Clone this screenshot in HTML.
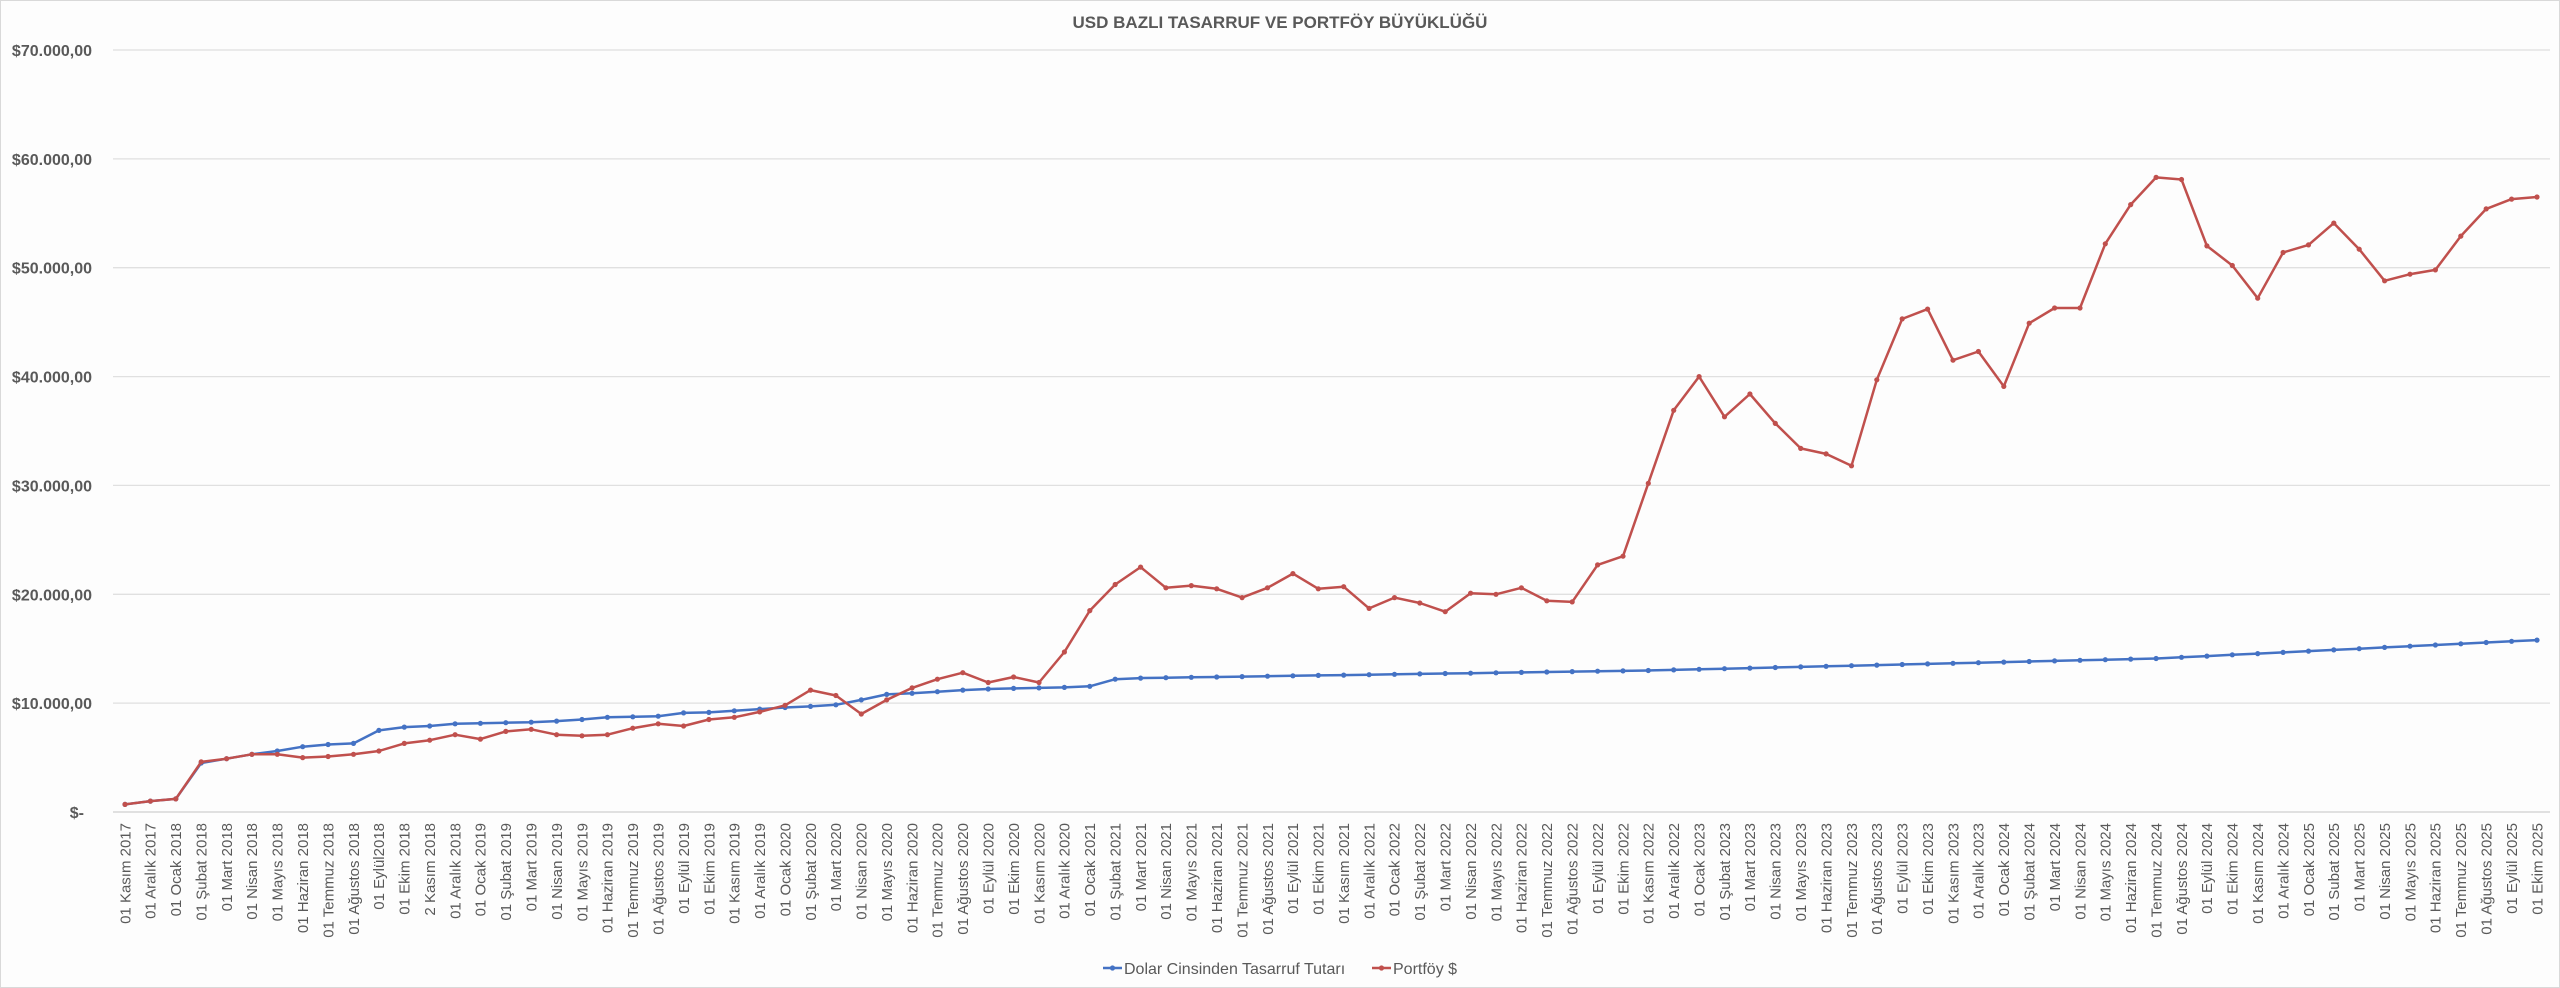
<!DOCTYPE html>
<html><head><meta charset="utf-8"><style>
html,body{margin:0;padding:0;background:#fff}
svg{display:block}
text{font-family:"Liberation Sans",sans-serif;fill:#595959}
</style></head><body>
<svg id="s" width="2560" height="988" viewBox="0 0 2560 988" xmlns="http://www.w3.org/2000/svg">
<rect x="0.5" y="0.5" width="2559" height="987" fill="#fdfdfd" stroke="#d9d9d9"/>
<text x="1280" y="28" text-anchor="middle" font-size="17" font-weight="bold">USD BAZLI TASARRUF VE PORTFÖY BÜYÜKLÜĞÜ</text>
<g stroke="#e0e0e0" stroke-width="1.3">
<line x1="113" x2="2550" y1="50" y2="50"/><line x1="113" x2="2550" y1="158.9" y2="158.9"/><line x1="113" x2="2550" y1="267.7" y2="267.7"/><line x1="113" x2="2550" y1="376.6" y2="376.6"/><line x1="113" x2="2550" y1="485.4" y2="485.4"/><line x1="113" x2="2550" y1="594.3" y2="594.3"/><line x1="113" x2="2550" y1="703.1" y2="703.1"/><line x1="113" x2="2550" y1="812" y2="812" stroke="#d0d0d0"/>
</g>
<g font-size="16" font-weight="bold" text-anchor="end">
<text x="92" y="56">$70.000,00</text><text x="92" y="164.9">$60.000,00</text><text x="92" y="273.7">$50.000,00</text><text x="92" y="382.6">$40.000,00</text><text x="92" y="491.4">$30.000,00</text><text x="92" y="600.3">$20.000,00</text><text x="92" y="709.1">$10.000,00</text><text x="84" y="818">$-</text>
</g>
<g font-size="15" text-anchor="end">
<text transform="translate(125,823) rotate(-90)" dy="0.35em">01 Kasım 2017</text>
<text transform="translate(150.4,823) rotate(-90)" dy="0.35em">01 Aralık 2017</text>
<text transform="translate(175.8,823) rotate(-90)" dy="0.35em">01 Ocak 2018</text>
<text transform="translate(201.2,823) rotate(-90)" dy="0.35em">01 Şubat 2018</text>
<text transform="translate(226.6,823) rotate(-90)" dy="0.35em">01 Mart 2018</text>
<text transform="translate(251.9,823) rotate(-90)" dy="0.35em">01 Nisan 2018</text>
<text transform="translate(277.3,823) rotate(-90)" dy="0.35em">01 Mayıs 2018</text>
<text transform="translate(302.7,823) rotate(-90)" dy="0.35em">01 Haziran 2018</text>
<text transform="translate(328.1,823) rotate(-90)" dy="0.35em">01 Temmuz 2018</text>
<text transform="translate(353.5,823) rotate(-90)" dy="0.35em">01 Ağustos 2018</text>
<text transform="translate(378.9,823) rotate(-90)" dy="0.35em">01 Eylül2018</text>
<text transform="translate(404.3,823) rotate(-90)" dy="0.35em">01 Ekim 2018</text>
<text transform="translate(429.7,823) rotate(-90)" dy="0.35em">2 Kasım 2018</text>
<text transform="translate(455.1,823) rotate(-90)" dy="0.35em">01 Aralık 2018</text>
<text transform="translate(480.4,823) rotate(-90)" dy="0.35em">01 Ocak 2019</text>
<text transform="translate(505.8,823) rotate(-90)" dy="0.35em">01 Şubat 2019</text>
<text transform="translate(531.2,823) rotate(-90)" dy="0.35em">01 Mart 2019</text>
<text transform="translate(556.6,823) rotate(-90)" dy="0.35em">01 Nisan 2019</text>
<text transform="translate(582,823) rotate(-90)" dy="0.35em">01 Mayıs 2019</text>
<text transform="translate(607.4,823) rotate(-90)" dy="0.35em">01 Haziran 2019</text>
<text transform="translate(632.8,823) rotate(-90)" dy="0.35em">01 Temmuz 2019</text>
<text transform="translate(658.2,823) rotate(-90)" dy="0.35em">01 Ağustos 2019</text>
<text transform="translate(683.6,823) rotate(-90)" dy="0.35em">01 Eylül 2019</text>
<text transform="translate(709,823) rotate(-90)" dy="0.35em">01 Ekim 2019</text>
<text transform="translate(734.3,823) rotate(-90)" dy="0.35em">01 Kasım 2019</text>
<text transform="translate(759.7,823) rotate(-90)" dy="0.35em">01 Aralık 2019</text>
<text transform="translate(785.1,823) rotate(-90)" dy="0.35em">01 Ocak 2020</text>
<text transform="translate(810.5,823) rotate(-90)" dy="0.35em">01 Şubat 2020</text>
<text transform="translate(835.9,823) rotate(-90)" dy="0.35em">01 Mart 2020</text>
<text transform="translate(861.3,823) rotate(-90)" dy="0.35em">01 Nisan 2020</text>
<text transform="translate(886.7,823) rotate(-90)" dy="0.35em">01 Mayıs 2020</text>
<text transform="translate(912.1,823) rotate(-90)" dy="0.35em">01 Haziran 2020</text>
<text transform="translate(937.4,823) rotate(-90)" dy="0.35em">01 Temmuz 2020</text>
<text transform="translate(962.8,823) rotate(-90)" dy="0.35em">01 Ağustos 2020</text>
<text transform="translate(988.2,823) rotate(-90)" dy="0.35em">01 Eylül 2020</text>
<text transform="translate(1013.6,823) rotate(-90)" dy="0.35em">01 Ekim 2020</text>
<text transform="translate(1039,823) rotate(-90)" dy="0.35em">01 Kasım 2020</text>
<text transform="translate(1064.4,823) rotate(-90)" dy="0.35em">01 Aralık 2020</text>
<text transform="translate(1089.8,823) rotate(-90)" dy="0.35em">01 Ocak 2021</text>
<text transform="translate(1115.2,823) rotate(-90)" dy="0.35em">01 Şubat 2021</text>
<text transform="translate(1140.6,823) rotate(-90)" dy="0.35em">01 Mart 2021</text>
<text transform="translate(1165.9,823) rotate(-90)" dy="0.35em">01 Nisan 2021</text>
<text transform="translate(1191.3,823) rotate(-90)" dy="0.35em">01 Mayıs 2021</text>
<text transform="translate(1216.7,823) rotate(-90)" dy="0.35em">01 Haziran 2021</text>
<text transform="translate(1242.1,823) rotate(-90)" dy="0.35em">01 Temmuz 2021</text>
<text transform="translate(1267.5,823) rotate(-90)" dy="0.35em">01 Ağustos 2021</text>
<text transform="translate(1292.9,823) rotate(-90)" dy="0.35em">01 Eylül 2021</text>
<text transform="translate(1318.3,823) rotate(-90)" dy="0.35em">01 Ekim 2021</text>
<text transform="translate(1343.7,823) rotate(-90)" dy="0.35em">01 Kasım 2021</text>
<text transform="translate(1369.1,823) rotate(-90)" dy="0.35em">01 Aralık 2021</text>
<text transform="translate(1394.4,823) rotate(-90)" dy="0.35em">01 Ocak 2022</text>
<text transform="translate(1419.8,823) rotate(-90)" dy="0.35em">01 Şubat 2022</text>
<text transform="translate(1445.2,823) rotate(-90)" dy="0.35em">01 Mart 2022</text>
<text transform="translate(1470.6,823) rotate(-90)" dy="0.35em">01 Nisan 2022</text>
<text transform="translate(1496,823) rotate(-90)" dy="0.35em">01 Mayıs 2022</text>
<text transform="translate(1521.4,823) rotate(-90)" dy="0.35em">01 Haziran 2022</text>
<text transform="translate(1546.8,823) rotate(-90)" dy="0.35em">01 Temmuz 2022</text>
<text transform="translate(1572.2,823) rotate(-90)" dy="0.35em">01 Ağustos 2022</text>
<text transform="translate(1597.6,823) rotate(-90)" dy="0.35em">01 Eylül 2022</text>
<text transform="translate(1623,823) rotate(-90)" dy="0.35em">01 Ekim 2022</text>
<text transform="translate(1648.3,823) rotate(-90)" dy="0.35em">01 Kasım 2022</text>
<text transform="translate(1673.7,823) rotate(-90)" dy="0.35em">01 Aralık 2022</text>
<text transform="translate(1699.1,823) rotate(-90)" dy="0.35em">01 Ocak 2023</text>
<text transform="translate(1724.5,823) rotate(-90)" dy="0.35em">01 Şubat 2023</text>
<text transform="translate(1749.9,823) rotate(-90)" dy="0.35em">01 Mart 2023</text>
<text transform="translate(1775.3,823) rotate(-90)" dy="0.35em">01 Nisan 2023</text>
<text transform="translate(1800.7,823) rotate(-90)" dy="0.35em">01 Mayıs 2023</text>
<text transform="translate(1826.1,823) rotate(-90)" dy="0.35em">01 Haziran 2023</text>
<text transform="translate(1851.5,823) rotate(-90)" dy="0.35em">01 Temmuz 2023</text>
<text transform="translate(1876.8,823) rotate(-90)" dy="0.35em">01 Ağustos 2023</text>
<text transform="translate(1902.2,823) rotate(-90)" dy="0.35em">01 Eylül 2023</text>
<text transform="translate(1927.6,823) rotate(-90)" dy="0.35em">01 Ekim 2023</text>
<text transform="translate(1953,823) rotate(-90)" dy="0.35em">01 Kasım 2023</text>
<text transform="translate(1978.4,823) rotate(-90)" dy="0.35em">01 Aralık 2023</text>
<text transform="translate(2003.8,823) rotate(-90)" dy="0.35em">01 Ocak 2024</text>
<text transform="translate(2029.2,823) rotate(-90)" dy="0.35em">01 Şubat 2024</text>
<text transform="translate(2054.6,823) rotate(-90)" dy="0.35em">01 Mart 2024</text>
<text transform="translate(2080,823) rotate(-90)" dy="0.35em">01 Nisan 2024</text>
<text transform="translate(2105.3,823) rotate(-90)" dy="0.35em">01 Mayıs 2024</text>
<text transform="translate(2130.7,823) rotate(-90)" dy="0.35em">01 Haziran 2024</text>
<text transform="translate(2156.1,823) rotate(-90)" dy="0.35em">01 Temmuz 2024</text>
<text transform="translate(2181.5,823) rotate(-90)" dy="0.35em">01 Ağustos 2024</text>
<text transform="translate(2206.9,823) rotate(-90)" dy="0.35em">01 Eylül 2024</text>
<text transform="translate(2232.3,823) rotate(-90)" dy="0.35em">01 Ekim 2024</text>
<text transform="translate(2257.7,823) rotate(-90)" dy="0.35em">01 Kasım 2024</text>
<text transform="translate(2283.1,823) rotate(-90)" dy="0.35em">01 Aralık 2024</text>
<text transform="translate(2308.5,823) rotate(-90)" dy="0.35em">01 Ocak 2025</text>
<text transform="translate(2333.8,823) rotate(-90)" dy="0.35em">01 Subat 2025</text>
<text transform="translate(2359.2,823) rotate(-90)" dy="0.35em">01 Mart 2025</text>
<text transform="translate(2384.6,823) rotate(-90)" dy="0.35em">01 Nisan 2025</text>
<text transform="translate(2410,823) rotate(-90)" dy="0.35em">01 Mayıs 2025</text>
<text transform="translate(2435.4,823) rotate(-90)" dy="0.35em">01 Haziran 2025</text>
<text transform="translate(2460.8,823) rotate(-90)" dy="0.35em">01 Temmuz 2025</text>
<text transform="translate(2486.2,823) rotate(-90)" dy="0.35em">01 Ağustos 2025</text>
<text transform="translate(2511.6,823) rotate(-90)" dy="0.35em">01 Eylül 2025</text>
<text transform="translate(2537,823) rotate(-90)" dy="0.35em">01 Ekim 2025</text>
</g>
<g id="series"></g>
<line x1="1103" x2="1122" y1="968" y2="968" stroke="#4472C4" stroke-width="2.5"/><circle cx="1112.5" cy="968" r="2.6" fill="#4472C4"/>
<text x="1124" y="974" font-size="16">Dolar Cinsinden Tasarruf Tutarı</text>
<line x1="1372" x2="1391" y1="968" y2="968" stroke="#C0504D" stroke-width="2.5"/><circle cx="1381.5" cy="968" r="2.6" fill="#C0504D"/>
<text x="1393" y="974" font-size="16">Portföy $</text>
</svg>
<script>
var red=[700,1000,1200,4600,4900,5300,5300,5000,5100,5300,5600,6300,6600,7100,6700,7400,7600,7100,7000,7100,7700,8100,7900,8500,8700,9200,9800,11200,10700,9000,10300,11400,12200,12800,11900,12400,11900,14700,18500,20900,22500,20600,20800,20500,19700,20600,21900,20500,20700,18700,19700,19200,18400,20100,20000,20600,19400,19300,22700,23500,30200,36900,40000,36300,38400,35700,33400,32900,31800,39700,45300,46200,41500,42300,39100,44900,46300,46300,52200,55800,58300,58100,52000,50200,47200,51400,52100,54100,51700,48800,49400,49800,52900,55400,56300,56500];
var blue=[700,1000,1200,4500,4900,5300,5600,6000,6200,6300,7500,7800,7900,8100,8150,8200,8250,8350,8500,8700,8750,8800,9100,9150,9300,9450,9600,9700,9850,10300,10800,10900,11050,11200,11300,11350,11400,11450,11550,12200];
for(var i=40;i<=95;i++){var v;if(i<=60)v=12300+(i-40)*35;else if(i<=80)v=13000+(i-60)*55;else v=14100+(i-80)*113;blue.push(v);}
var g=document.getElementById('series'),ns='http://www.w3.org/2000/svg';
function draw(d,c){var p=[];for(var i=0;i<d.length;i++){var x=125+25.389*i,y=812-d[i]*0.0108857;p.push(x.toFixed(1)+','+y.toFixed(1));}
var pl=document.createElementNS(ns,'polyline');pl.setAttribute('points',p.join(' '));pl.setAttribute('fill','none');pl.setAttribute('stroke',c);pl.setAttribute('stroke-width','2.5');pl.setAttribute('stroke-linejoin','round');g.appendChild(pl);
for(var i=0;i<p.length;i++){var xy=p[i].split(','),ci=document.createElementNS(ns,'circle');ci.setAttribute('cx',xy[0]);ci.setAttribute('cy',xy[1]);ci.setAttribute('r','2.6');ci.setAttribute('fill',c);g.appendChild(ci);}}
draw(blue,'#4472C4');draw(red,'#C0504D');
</script>
</body></html>
